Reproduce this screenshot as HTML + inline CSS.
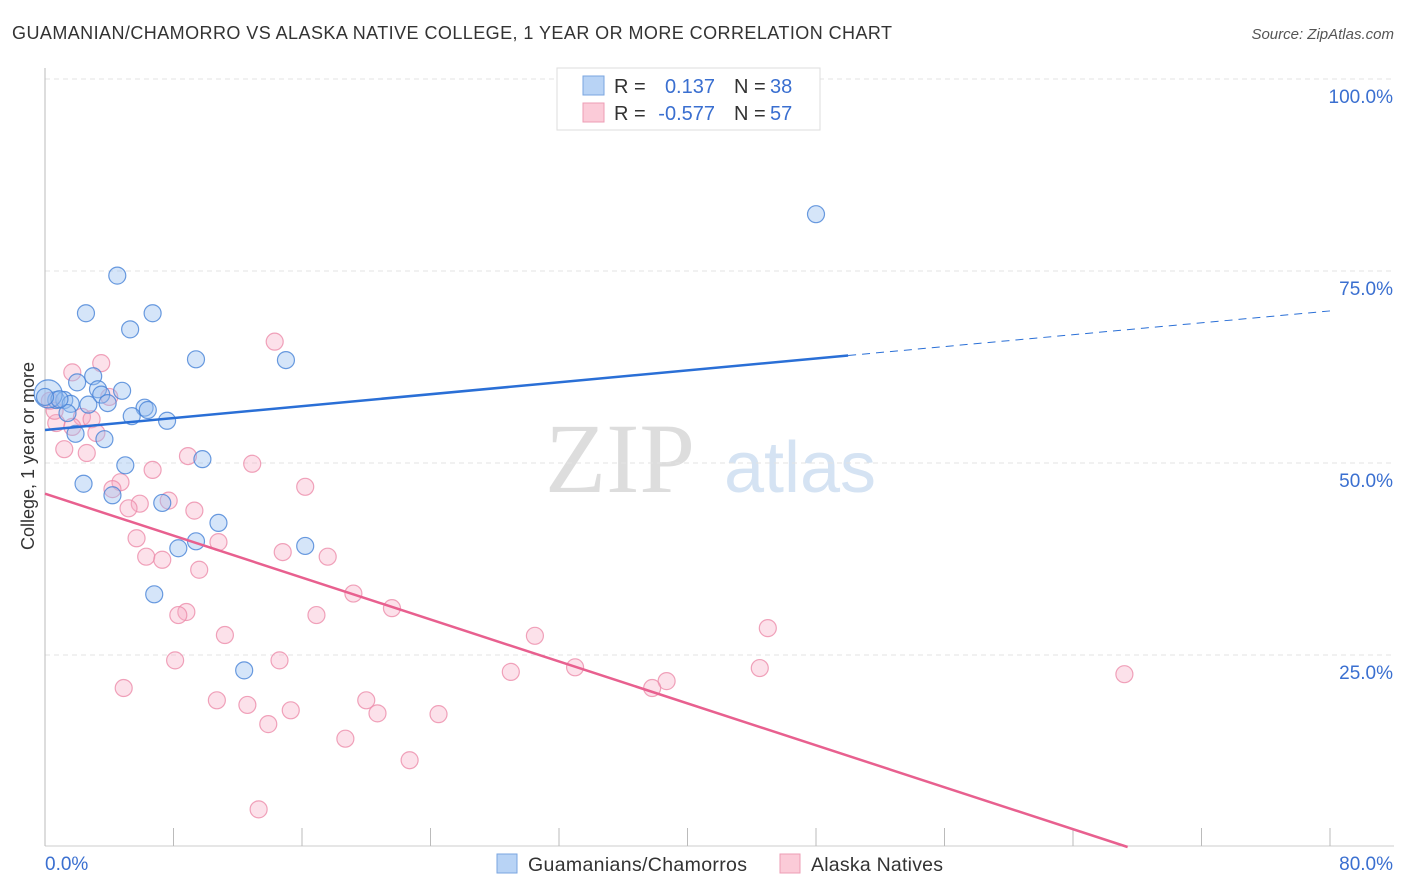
<!DOCTYPE html>
<html><head><meta charset="utf-8"><style>
body{margin:0;background:#fff;font-family:"Liberation Sans",sans-serif}
svg{display:block}
</style></head><body>
<svg id="c" width="1406" height="892" xmlns="http://www.w3.org/2000/svg">
<text x="12" y="39" font-size="18" fill="#333" textLength="880">GUAMANIAN/CHAMORRO VS ALASKA NATIVE COLLEGE, 1 YEAR OR MORE CORRELATION CHART</text>
<text x="1394" y="39" font-size="15" fill="#555" text-anchor="end" font-style="italic">Source: ZipAtlas.com</text>
<text x="620" y="492" font-size="100" fill="#ddd" font-family="Liberation Serif" text-anchor="middle">ZIP</text>
<text x="800" y="492" font-size="72" fill="#d5e3f3" text-anchor="middle">atlas</text>
<g id="grid"></g><g id="axes"></g><g id="pts"></g><g id="trend"></g>
<text x="34" y="456" font-size="18" fill="#333" text-anchor="middle" transform="rotate(-90 34 456)">College, 1 year or more</text>
<g>
<rect x="557" y="68" width="263" height="62" fill="#fff" stroke="#ddd"/>
<rect x="583" y="76" width="21" height="19" fill="#b8d3f5" stroke="#7aa6e0"/>
<rect x="583" y="103" width="21" height="19" fill="#fbcbd8" stroke="#ee9cb5"/>
<text x="614" y="93" font-size="20" fill="#333">R =</text><text x="715" y="93" font-size="20" fill="#3a6fd0" text-anchor="end">0.137</text>
<text x="734" y="93" font-size="20" fill="#333">N =</text><text x="770" y="93" font-size="20" fill="#3a6fd0">38</text>
<text x="614" y="120" font-size="20" fill="#333">R =</text><text x="715" y="120" font-size="20" fill="#3a6fd0" text-anchor="end">-0.577</text>
<text x="734" y="120" font-size="20" fill="#333">N =</text><text x="770" y="120" font-size="20" fill="#3a6fd0">57</text>
</g>
<g>
<rect x="497" y="854" width="20" height="19" fill="#b8d3f5" stroke="#7aa6e0"/>
<text x="528" y="871" font-size="19.5" fill="#333" textLength="219">Guamanians/Chamorros</text>
<rect x="780" y="854" width="20" height="19" fill="#fbcbd8" stroke="#ee9cb5"/>
<text x="811" y="871" font-size="19.5" fill="#333" textLength="132">Alaska Natives</text>
</g>
</svg>
<script>
const blueX=[4.5,2.55,6.7,5.3,9.4,15.0,3.0,2.0,3.3,4.8,3.5,0.7,1.2,1.6,2.7,3.9,6.2,6.4,5.4,7.6,1.4,1.9,3.7,5.0,9.8,2.4,4.2,7.3,10.8,9.4,8.3,16.2,6.8,12.4,48.0,0.2,0.9,0.0];
const blueY=[74.4,69.5,69.5,67.4,63.5,63.4,61.3,60.5,59.6,59.4,58.9,58.2,58.2,57.7,57.6,57.8,57.2,56.9,56.1,55.5,56.5,53.8,53.1,49.7,50.5,47.3,45.8,44.8,42.2,39.8,38.9,39.2,32.9,23.0,82.4,59.0,58.3,58.6];
const pinkX=[14.3,3.5,1.7,4.0,2.3,2.9,0.7,3.2,1.7,1.2,2.6,8.9,12.9,6.7,16.2,4.7,4.2,5.9,7.7,5.2,9.3,5.7,10.8,14.8,6.3,7.3,17.6,9.6,19.2,21.6,8.8,8.3,16.9,11.2,30.5,45.0,8.1,14.6,33.0,29.0,44.5,38.7,37.8,67.2,4.9,10.7,12.6,20.0,15.3,20.7,24.5,13.9,18.7,22.7,13.3,0.3,0.6];
const pinkY=[65.8,63.0,61.8,58.6,56.0,55.7,55.2,53.9,54.7,51.8,51.3,50.9,49.9,49.1,46.9,47.5,46.6,44.7,45.1,44.1,43.8,40.2,39.7,38.4,37.8,37.4,37.8,36.1,33.0,31.1,30.6,30.2,30.2,27.6,27.5,28.5,24.3,24.3,23.4,22.8,23.3,21.6,20.7,22.5,20.7,19.1,18.5,19.1,17.8,17.4,17.3,16.0,14.1,11.3,4.9,58.1,56.8];
const yTicks=[25,50,75,100];
const xTicks=[0,80];
const blueTrend=[[0,54.3],[50,64.0]],blueDash=[[50,64.0],[80,69.8]];
const pinkTrend=[[0,46.0],[67.4,0]];
const X=v=>45+v/80*1285, Y=v=>847-v/100*768;
const NS='http://www.w3.org/2000/svg';
function mk(p,t,a){const e=document.createElementNS(NS,t);for(const k in a)e.setAttribute(k,a[k]);document.getElementById(p).appendChild(e);return e;}
yTicks.forEach(t=>{
 const l=mk('grid','line',{x1:45,x2:1394,y1:Y(t),y2:Y(t),stroke:'#e3e3e3','stroke-dasharray':'5,4'});
 
 
 const tx=mk('grid','text',{x:1393,y:Y(t)+24,'font-size':19,fill:'#3a6fd0','text-anchor':'end'});tx.textContent=t.toFixed(1)+'%';
 
 
});
mk('axes','line',{x1:45,x2:45,y1:68,y2:846,stroke:'#bbb'});
mk('axes','line',{x1:45,x2:1394,y1:846,y2:846,stroke:'#ccc'});
for(let i=0;i<=10;i++){mk('axes','line',{x1:X(i*8),x2:X(i*8),y1:828,y2:846,stroke:'#bbb'});}
xTicks.forEach((t,i)=>{const tx=mk('axes','text',{x:i?1393:45,y:870,'font-size':19,fill:'#3a6fd0','text-anchor':i?'end':'start'});tx.textContent=t.toFixed(1)+'%';
 
 });
pinkX.forEach((x,i)=>{const c=mk('pts','circle',{cx:X(x),cy:Y(pinkY[i]),r:8.5,fill:'rgba(246,170,195,0.35)',stroke:'rgba(236,140,170,0.8)','stroke-width':1.2});
 
 });
blueX.forEach((x,i)=>{const c=mk('pts','circle',{cx:X(x),cy:Y(blueY[i]),r:i==35?14:8.5,fill:'rgba(150,190,240,0.4)',stroke:'rgba(70,130,215,0.8)','stroke-width':1.2});
 
 });
function ln(s,col,dash,name){const l=mk('trend','line',{x1:X(s[0][0]),y1:Y(s[0][1]),x2:X(s[1][0]),y2:Y(s[1][1]),stroke:col,'stroke-width':dash?1:2.5});if(dash)l.setAttribute('stroke-dasharray','8,6');
 
 }
ln(blueTrend,'#2a6fd6',0,'guamanian-trend-line');ln(blueDash,'#2a6fd6',1,'guamanian-trend-extension');ln(pinkTrend,'#e8608f',0,'alaska-native-trend-line');
</script>
</body></html>
